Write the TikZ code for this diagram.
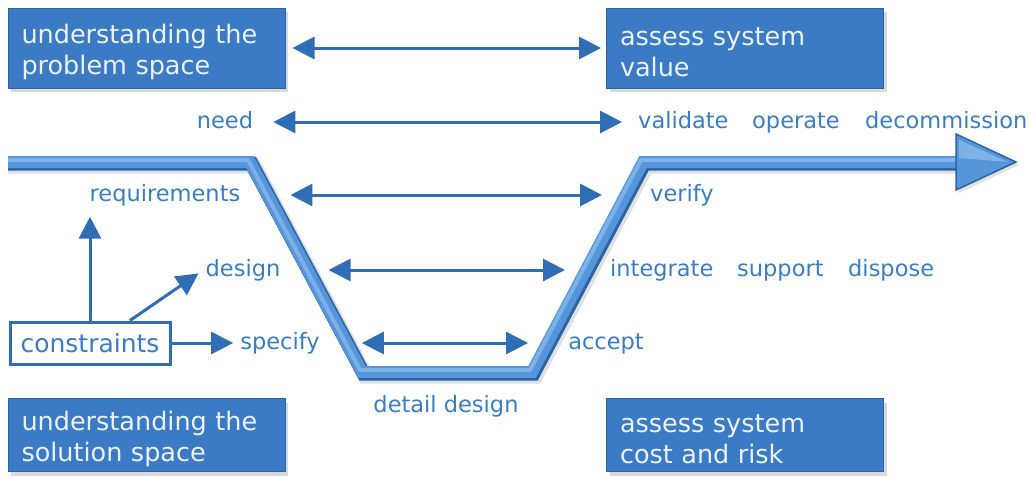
\documentclass[tikz,border=0pt]{standalone}
\usepackage{fontspec}
\setmainfont{DejaVu Sans}
\usetikzlibrary{shadows,arrows.meta}
\definecolor{boxblue}{HTML}{3B7AC4}
\definecolor{txtblue}{HTML}{3A7DC0}
\definecolor{arrblue}{HTML}{2F6EB5}
\definecolor{vlight}{HTML}{5595DA}
\definecolor{vhigh}{HTML}{7DB2E8}
\definecolor{vdark}{HTML}{2B64A6}
\newcommand\boxstrut{\rule{0pt}{27pt}}
\tikzset{
  spacebox/.style={draw=vdark, line width=1pt, fill=boxblue, text=white!90!boxblue, minimum width=277pt, text width=250pt, inner xsep=13.5pt, align=left, font=\fontsize{25.5}{31}\selectfont, drop shadow={opacity=0.3, shadow xshift=3pt, shadow yshift=-4pt}},
  lbl/.style={text=txtblue, font=\fontsize{22.5}{26}\selectfont, inner sep=2pt, text height=18pt, text depth=5pt},
  twoway/.style={arrblue, line width=3pt, {Triangle[length=22pt,width=22pt]}-{Triangle[length=22pt,width=22pt]}},
  oneway/.style={arrblue, line width=3pt, -{Triangle[length=22pt,width=22pt]}},
}
\begin{document}
\begin{tikzpicture}[x=1pt,y=-1pt]
\useasboundingbox (0,0) rectangle (1031,477);
\node[spacebox, minimum height=80pt] (probspace) at (146.5,48) {\boxstrut understanding the\\problem space};
\node[spacebox, minimum height=80pt] (sysvalue) at (745,48) {\boxstrut assess system\\value};
\node[spacebox, minimum height=73pt] (solspace) at (146.5,435) {\boxstrut understanding the\\solution space};
\node[spacebox, minimum height=73pt] (syscost) at (745,435) {\boxstrut assess system\\cost and risk};
\begin{scope}
\clip (8,100) rectangle (1031,400);
\foreach \w/\c/\s/\o in {16/black/-3.5/0.12, 14/vdark/-1.5/1, 12/vlight/0/1, 4/vhigh/2/1}
  \draw[line width=\w pt, \c, opacity=\o, line join=miter, xshift=-\s pt, yshift=\s pt] (4,162) -- (250,162) -- (362,372) -- (532,372) -- (643,162) -- (958,162);
\end{scope}
\draw[fill=black, draw=none, opacity=0.12, xshift=3pt, yshift=-3pt] (956,134) -- (1016,162) -- (956,190) -- cycle;
\draw[fill=vlight, draw=vdark, line width=1.5pt, line join=miter] (956,134) -- (1016,162) -- (956,190) -- cycle;
\fill[vhigh] (959,140) -- (1008,162) -- (959,158) -- cycle;
\node[lbl] (need) at (225,122) {need};
\node[lbl, anchor=west] (validate) at (636,122) {validate};
\node[lbl, anchor=west] (operate) at (750,122) {operate};
\node[lbl, anchor=west] (decom) at (863,122) {decommission};
\node[lbl] (req) at (165,195) {requirements};
\node[lbl, anchor=west] (verify) at (648,195) {verify};
\node[lbl] (design) at (243,270) {design};
\node[lbl, anchor=west] (integrate) at (608,270) {integrate};
\node[lbl, anchor=west] (support) at (735,270) {support};
\node[lbl, anchor=west] (dispose) at (846,270) {dispose};
\node[lbl] (specify) at (280,343) {specify};
\node[lbl] (accept) at (606,343) {accept};
\node[lbl] (detail) at (446,406) {detail design};
\node[draw=arrblue, line width=3pt, fill=white, text=txtblue, font=\fontsize{25}{28}\selectfont, minimum width=160pt, minimum height=42pt, inner sep=2pt] (cons) at (90,343) {constraints};
\draw[twoway, shorten <=7pt, shorten >=5pt] (probspace) -- (sysvalue);
\draw[twoway, shorten <=18pt, shorten >=14pt] (need) -- (validate);
\draw[twoway, shorten <=48pt, shorten >=46pt] (req) -- (verify);
\draw[twoway, shorten <=46pt, shorten >=43pt] (design) -- (integrate);
\draw[twoway, shorten <=40pt, shorten >=38pt] (specify) -- (accept);
\draw[oneway, shorten >=8pt] (cons.north) -- (cons.north |- req.south);
\draw[oneway, shorten >=6pt] ([xshift=40pt]cons.north) -- (design.west);
\draw[oneway, shorten >=5pt] (cons) -- (specify);
\end{tikzpicture}
\end{document}
